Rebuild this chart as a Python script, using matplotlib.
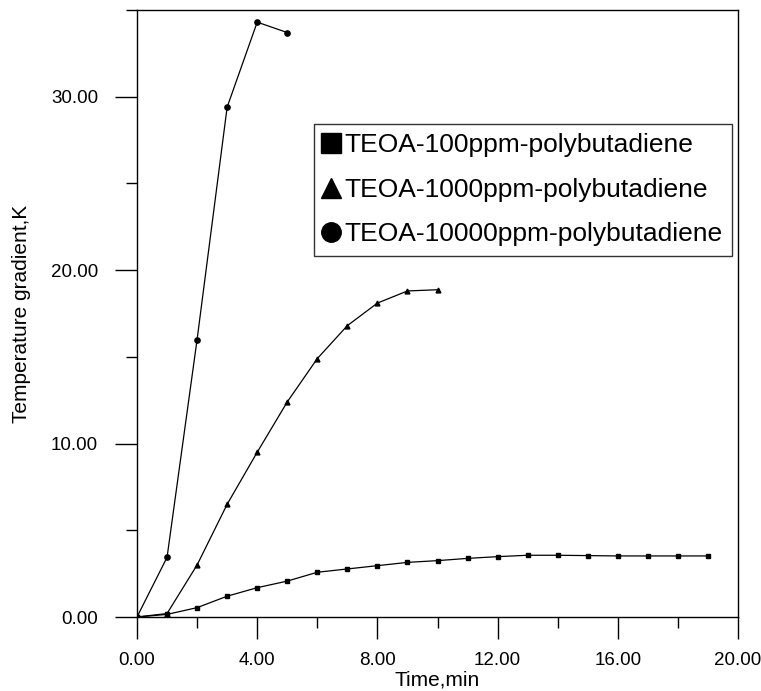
import matplotlib
matplotlib.use("Agg")
import matplotlib.pyplot as plt
from matplotlib.lines import Line2D
from matplotlib.ticker import MultipleLocator, FormatStrFormatter

plt.rcParams['font.family'] = ['Liberation Sans', 'DejaVu Sans']

# Data
x_100 = [0, 1, 2, 3, 4, 5, 6, 7, 8, 9, 10, 11, 12, 13, 14, 15, 16, 17, 18, 19]
y_100 = [0.0, 0.15, 0.54, 1.2, 1.69, 2.07, 2.58, 2.77, 2.96, 3.15, 3.25, 3.38,
         3.48, 3.56, 3.56, 3.54, 3.52, 3.52, 3.52, 3.52]
x_1000 = [0, 1, 2, 3, 4, 5, 6, 7, 8, 9, 10]
y_1000 = [0.0, 0.2, 3.0, 6.5, 9.5, 12.4, 14.9, 16.8, 18.1, 18.8, 18.87]
x_10000 = [0, 1, 2, 3, 4, 5]
y_10000 = [0.0, 3.44, 16.0, 29.4, 34.3, 33.7]

labels = ["TEOA-100ppm-polybutadiene",
          "TEOA-1000ppm-polybutadiene",
          "TEOA-10000ppm-polybutadiene"]

W, H = 761, 691
fig = plt.figure(figsize=(W / 100, H / 100), dpi=100)
ax = fig.add_axes([137 / W, 1 - 617 / H, (738 - 137) / W, (617 - 10) / H])

ax.plot(x_100, y_100, color='black', lw=0.9, marker='s', ms=3.5)
ax.plot(x_1000, y_1000, color='black', lw=0.9, marker='^', ms=3.5)
ax.plot(x_10000, y_10000, color='black', lw=0.9, marker='o', ms=3.8)

ax.set_xlim(0, 20)
ax.set_ylim(0, 35)
ax.xaxis.set_major_locator(MultipleLocator(4))
ax.xaxis.set_minor_locator(MultipleLocator(2))
ax.yaxis.set_major_locator(MultipleLocator(10))
ax.yaxis.set_minor_locator(MultipleLocator(5))
ax.xaxis.set_major_formatter(FormatStrFormatter('%.2f'))
ax.yaxis.set_major_formatter(FormatStrFormatter('%.2f'))
ax.tick_params(which='major', direction='out', length=16, width=1, labelsize=13.5,
               top=False, right=False)
ax.tick_params(axis='x', which='major', pad=9)
ax.tick_params(axis='y', which='major', pad=12)
ax.tick_params(which='minor', direction='out', length=8, width=1,
               top=False, right=False)
for s in ax.spines.values():
    s.set_linewidth(1)

ax.set_xlabel("Time,min", fontsize=15, labelpad=1)
ax.set_ylabel("Temperature gradient,K", fontsize=15, labelpad=14)

handles = [Line2D([], [], color='black', marker='s', ls='none', ms=14),
           Line2D([], [], color='black', marker='^', ls='none', ms=14),
           Line2D([], [], color='black', marker='o', ls='none', ms=14)]
leg = fig.legend(handles, labels, loc='upper left',
                 bbox_to_anchor=(314 / W, 1 - 124 / H),
                 fontsize=19, frameon=True, fancybox=False, shadow=False,
                 handlelength=0.6, handletextpad=0.2, borderpad=0.35,
                 labelspacing=0.78, borderaxespad=0)
leg.get_frame().set_edgecolor('black')
leg.get_frame().set_linewidth(1)

fig.savefig("out.png", dpi=100)
